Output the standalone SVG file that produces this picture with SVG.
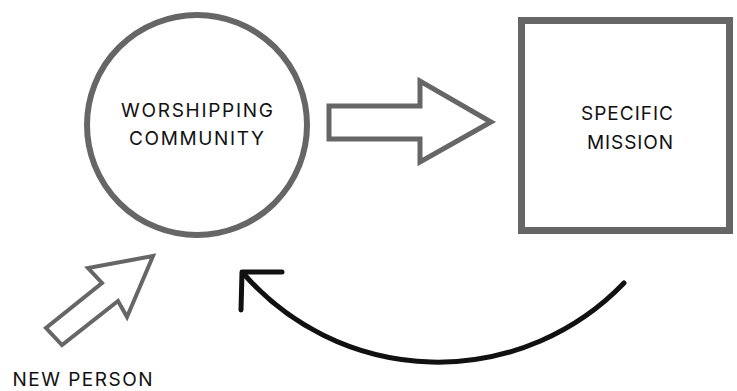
<svg xmlns="http://www.w3.org/2000/svg" width="737" height="391" viewBox="0 0 737 391">
<style>
.shape{fill:#fff;stroke:#666;stroke-linejoin:miter}
.lbl{font-family:Inter,"Liberation Sans",sans-serif;font-size:19px;fill:#111;text-anchor:middle;letter-spacing:1px}
</style>
<rect width="737" height="391" fill="#fff"/>
<g id="worshipping-community">
<circle class="shape" cx="197" cy="125" r="110" stroke-width="6"/>
<text class="lbl" x="197.5" y="117" textLength="153" lengthAdjust="spacing">WORSHIPPING</text>
<text class="lbl" x="197" y="145" textLength="136" lengthAdjust="spacing">COMMUNITY</text>
</g>
<g id="specific-mission">
<rect class="shape" x="521.5" y="20.5" width="208" height="210" stroke-width="7"/>
<text class="lbl" x="627.5" y="120" textLength="93" lengthAdjust="spacing">SPECIFIC</text>
<text class="lbl" x="630.5" y="149" textLength="87" lengthAdjust="spacing">MISSION</text>
</g>
<g id="new-person">
<text class="lbl" x="83" y="386" textLength="141" lengthAdjust="spacing">NEW PERSON</text>
</g>
<g id="connectors">
<polygon class="shape" stroke-width="5" points="329,106 420,106 420,81 491,122 420,162 420,139 329,139"/>
<polygon class="shape" stroke-width="4" points="153,256 88,268 102,283 46,328 62,345 118,301 127,317"/>
<path d="M624,283 A258,258 0 0 1 243,273" fill="none" stroke="#111" stroke-width="5" stroke-linecap="round"/>
<path d="M282,272 L242,272 L241,310" fill="none" stroke="#111" stroke-width="5" stroke-linecap="round" stroke-linejoin="round"/>
</g>
</svg>
